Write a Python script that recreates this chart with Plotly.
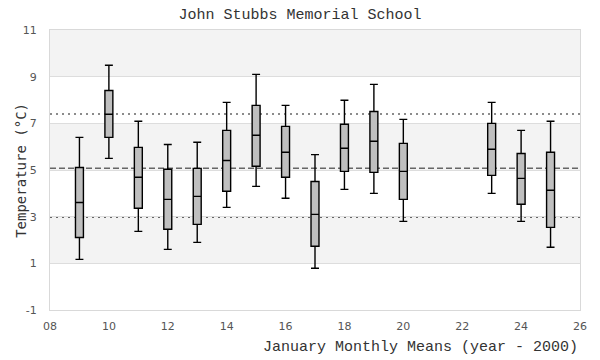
import plotly.graph_objects as go

years = [9, 10, 11, 12, 13, 14, 15, 16, 17, 18, 19, 20, 23, 24, 25]
upper_whisker = [6.40, 9.49, 7.09, 6.09, 6.19, 7.90, 9.10, 7.77, 5.66, 7.99, 8.67, 7.17, 7.90, 6.70, 7.09]
q3 = [5.11, 8.41, 5.97, 5.03, 5.07, 6.70, 7.77, 6.87, 4.51, 6.96, 7.51, 6.14, 7.00, 5.71, 5.76]
median = [3.61, 7.39, 4.69, 3.74, 3.87, 5.41, 6.49, 5.76, 3.10, 5.93, 6.23, 4.94, 5.89, 4.64, 4.13]
q1 = [2.11, 6.40, 3.36, 2.46, 2.67, 4.09, 5.16, 4.69, 1.73, 4.94, 4.90, 3.74, 4.77, 3.53, 2.54]
lower_whisker = [1.17, 5.50, 2.37, 1.60, 1.90, 3.40, 4.30, 3.79, 0.79, 4.17, 4.00, 2.80, 4.00, 2.80, 1.69]

x_ticks = [8, 10, 12, 14, 16, 18, 20, 22, 24, 26]
x_ticklabels = ["08", "10", "12", "14", "16", "18", "20", "22", "24", "26"]
y_ticks = [-1, 1, 3, 5, 7, 9, 11]
y_ticklabels = ["-1", "1", "3", "5", "7", "9", "11"]

mean_line = 5.07
sd_lines = [7.40, 2.97]
gray_bands = [(1, 3), (5, 7), (9, 11)]

fig = go.Figure()
fig.add_trace(go.Box(
    x=years, q1=q1, median=median, q3=q3,
    lowerfence=lower_whisker, upperfence=upper_whisker,
    boxpoints=False, width=0.27, whiskerwidth=1,
    fillcolor="#bfbfbf", line=dict(color="black", width=1.4),
    showlegend=False, hoverinfo="skip",
))

shapes = []
for lo, hi in gray_bands:
    shapes.append(dict(type="rect", xref="paper", yref="y", x0=0, x1=1, y0=lo, y1=hi,
                       fillcolor="#f3f3f3", line=dict(width=0), layer="below"))
shapes.append(dict(type="line", xref="paper", yref="y", x0=0, x1=1, y0=mean_line, y1=mean_line,
                   line=dict(color="#666666", width=1.5, dash="6px,3px"), layer="below"))
for v in sd_lines:
    shapes.append(dict(type="line", xref="paper", yref="y", x0=0, x1=1, y0=v, y1=v,
                       line=dict(color="#666666", width=1.5, dash="2px,4px"), layer="below"))

fig.update_layout(
    width=600, height=360,
    margin=dict(l=50, r=20, t=30, b=50),
    paper_bgcolor="white", plot_bgcolor="white",
    shapes=shapes,
    title=dict(text="John Stubbs Memorial School", x=0.5, xanchor="center", y=0.962, yanchor="middle",
               font=dict(family="Liberation Mono", size=15, color="#333333")),
    xaxis=dict(range=[8, 26], tickvals=x_ticks, ticktext=x_ticklabels, showgrid=False, zeroline=False,
               showline=True, mirror=True, linecolor="#d9d9d9", linewidth=1, automargin=False,
               ticks="", ticklabelstandoff=6,
               tickfont=dict(family="DejaVu Sans", size=11, color="#555555")),
    yaxis=dict(range=[-1, 11], tickvals=y_ticks, ticktext=y_ticklabels, showgrid=True,
               gridcolor="#dddddd", gridwidth=1, automargin=False,
               zeroline=False, showline=True, mirror=True, linecolor="#d9d9d9", linewidth=1,
               ticks="", ticklabelstandoff=10,
               tickfont=dict(family="DejaVu Sans", size=11, color="#555555")),
    annotations=[
        dict(text="January Monthly Means (year - 2000)", xref="paper", yref="paper",
             x=1, y=-0.135, xanchor="right", yanchor="middle", showarrow=False,
             font=dict(family="Liberation Mono", size=15, color="#333333")),
        dict(text="Temperature (°C)", xref="paper", yref="paper",
             x=-0.055, y=0.5, xanchor="center", yanchor="middle", showarrow=False, textangle=-90,
             font=dict(family="DejaVu Sans Mono", size=14, color="#333333")),
    ],
)

fig.write_html("out.html", config={"displayModeBar": False},
               post_script="document.body.style.margin='0';document.body.style.padding='0';")
